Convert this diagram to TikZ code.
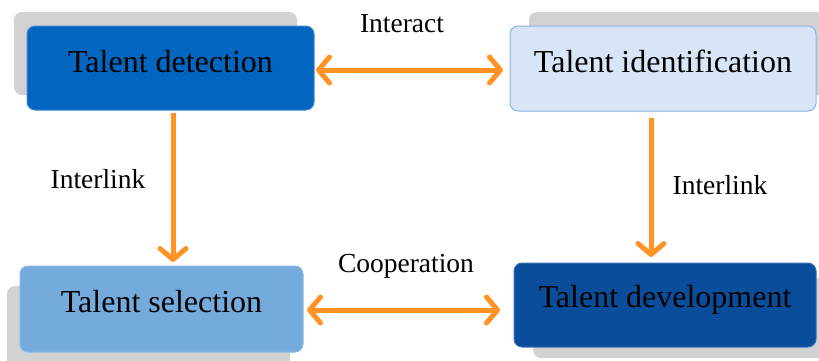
\documentclass[tikz,border=0pt]{standalone}
\usepackage{fontspec}
\setmainfont{LiberationSerif}[Extension=.ttf, UprightFont=*-Regular, BoldFont=*-Bold]
\usetikzlibrary{arrows.meta}
\definecolor{orangeA}{HTML}{FF9326}
\definecolor{shadowgray}{HTML}{D2D2D2}
\definecolor{detfill}{HTML}{0266C1}
\definecolor{detdraw}{HTML}{3F8AD3}
\definecolor{idfill}{HTML}{D7E5F6}
\definecolor{iddraw}{HTML}{8CB2E2}
\definecolor{selfill}{HTML}{75AADD}
\definecolor{seldraw}{HTML}{8CB8E3}
\definecolor{devfill}{HTML}{0A4D9B}
\definecolor{devdraw}{HTML}{3A72B8}
\tikzset{
  box/.style={rounded corners=8pt, line width=1pt},
  boxtext/.style={font=\rmfamily\fontsize{32}{37}\selectfont, anchor=base, inner sep=0pt},
  lbl/.style={font=\rmfamily\fontsize{27.5}{32}\selectfont, anchor=base, inner sep=0pt},
  conn/.style={draw=orangeA, line width=5pt,
    arrows={Straight Barb[length=11pt,width=26pt,line width=5pt,round]-Straight Barb[length=11pt,width=26pt,line width=5pt,round]}},
  oneway/.style={draw=orangeA, line width=5pt,
    arrows={-Straight Barb[length=11pt,width=26pt,line width=5pt,round]}}
}
\begin{document}
\begin{tikzpicture}[x=1pt,y=-1pt]
\useasboundingbox (0,0) rectangle (819,360);
\begin{scope}
\clip (0,0) rectangle (819,360);
% shadows
\fill[shadowgray, rounded corners=8pt] (14,12) rectangle (297,95);
\fill[shadowgray, rounded corners=8pt] (529,12) rectangle (840,95);
\fill[shadowgray, rounded corners=8pt] (7,286) rectangle (290,375);
\fill[shadowgray, rounded corners=8pt] (533,278) rectangle (840,358);
\end{scope}
% boxes
\draw[box, fill=detfill, draw=detdraw] (27,26) rectangle (314,110);
\draw[box, fill=idfill, draw=iddraw] (510,26) rectangle (816,111);
\draw[box, fill=selfill, draw=seldraw] (20,266) rectangle (303,352);
\draw[box, fill=devfill, draw=devdraw] (514,263) rectangle (816,347);
% texts
\node[boxtext] (det) at (170.5,72) {Talent detection};
\node[boxtext] (ide) at (663,72) {Talent identification};
\node[boxtext] (sel) at (161.5,312) {Talent selection};
\node[boxtext] (dev) at (665,307) {Talent development};
% anchor coordinates for connectors
\coordinate (detR) at (316,70);
\coordinate (ideL) at (503,70);
\coordinate (detB) at (173,113);
\coordinate (selT) at (173,262);
\coordinate (ideB) at (651,118);
\coordinate (devT) at (651,257);
\coordinate (selR) at (307,310);
\coordinate (devL) at (500,310);
% connectors
\draw[conn] (detR) -- (ideL);
\draw[conn] (selR) -- (devL);
\draw[oneway] (detB) -- (selT);
\draw[oneway] (ideB) -- (devT);
% labels
\node[lbl] (l1) at (402,32) {Interact};
\node[lbl] (l2) at (98,188) {Interlink};
\node[lbl] (l3) at (720,194) {Interlink};
\node[lbl] (l4) at (406,272) {Cooperation};
\end{tikzpicture}
\end{document}
